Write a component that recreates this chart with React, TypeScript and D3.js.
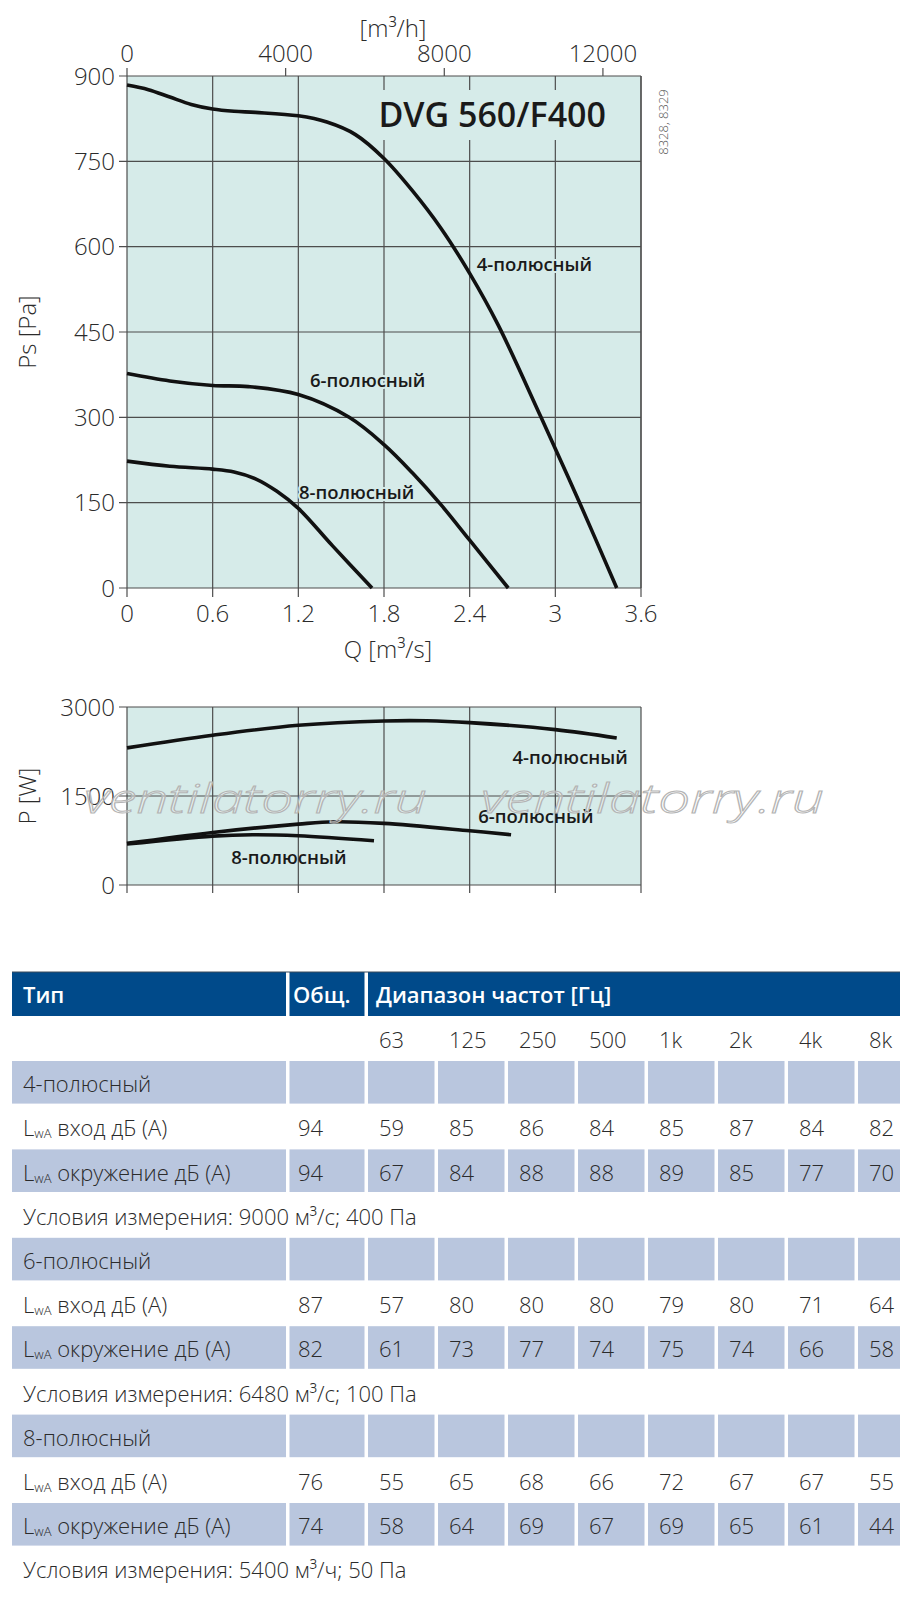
import * as d3 from 'd3';

// pressure curves, Q [m3/s] vs Ps [Pa]
const q4 = [0, 0.15, 0.3, 0.45, 0.6, 0.75, 0.9, 1.2, 1.4, 1.6, 1.8, 2.0, 2.2, 2.4, 2.6, 2.9, 3.17, 3.43];
const ps4 = [884, 876, 863, 850, 842, 838, 836, 830, 819, 797, 755, 698, 632, 553, 462, 300, 150, 0];
const q6 = [0, 0.3, 0.6, 0.85, 1.2, 1.556, 1.8, 2.0, 2.2, 2.4, 2.67];
const ps6 = [377, 364, 356, 354, 340, 300, 252, 202, 146, 84, 0];
const q8 = [0, 0.3, 0.6, 0.75, 0.9, 1.05, 1.2, 1.44, 1.716];
const ps8 = [223, 214, 209, 204, 192, 170, 140, 74, 0];

// power curves, Q [m3/s] vs P [W]
const qp4 = [0, 0.6, 1.2, 1.8, 2.1, 2.4, 3.0, 3.43];
const pw4 = [2311, 2524, 2692, 2765, 2768, 2737, 2619, 2479];
const qp6 = [0, 0.6, 1.2, 1.45, 1.8, 2.4, 2.69];
const pw6 = [701, 886, 1026, 1066, 1038, 914, 847];
const qp8 = [0, 0.6, 0.88, 1.2, 1.73];
const pw8 = [690, 824, 847, 830, 746];

const qTicks = [0, 0.6, 1.2, 1.8, 2.4, 3, 3.6];
const psTicks = [0, 150, 300, 450, 600, 750, 900];
const m3hTicks = [0, 4000, 8000, 12000];
const pTicks = [0, 1500, 3000];
const poles = ['4-полюсный', '6-полюсный', '8-полюсный'];

// sound table
const freqs = ['63', '125', '250', '500', '1k', '2k', '4k', '8k'];
const totalInlet = [94, 87, 76];
const totalSurr = [94, 82, 74];
const inlet4 = [59, 85, 86, 84, 85, 87, 84, 82];
const surr4 = [67, 84, 88, 88, 89, 85, 77, 70];
const inlet6 = [57, 80, 80, 80, 79, 80, 71, 64];
const surr6 = [61, 73, 77, 74, 75, 74, 66, 58];
const inlet8 = [55, 65, 68, 66, 72, 67, 67, 55];
const surr8 = [58, 64, 69, 67, 69, 65, 61, 44];
const conditions = [
  'Условия измерения: 9000 м³/с; 400 Па',
  'Условия измерения: 6480 м³/с; 100 Па',
  'Условия измерения: 5400 м³/ч; 50 Па',
];

const FONT = '"Open Sans", sans-serif';
const PLOT_BG = '#d6ebe9';
const GRID = '#4d4d4d';
const TEXT = '#2b2b2b';
const HEAD_BG = '#004a8a';
const BAND = '#b9c6de';

export default function App() {
  const W = 900;
  const H = 1599;
  const left = 127;
  const right = 641;

  const x = d3.scaleLinear().domain([0, 3.6]).range([left, right]);
  const xTop = d3.scaleLinear().domain([0, 3.6 * 3600]).range([left, right]);
  const y = d3.scaleLinear().domain([0, 900]).range([588, 76]);
  const yp = d3.scaleLinear().domain([0, 3000]).range([885, 707]);

  const line = d3
    .line<[number, number]>()
    .x((d) => x(d[0]))
    .y((d) => y(d[1]))
    .curve(d3.curveCatmullRom.alpha(0.5));
  const pline = d3
    .line<[number, number]>()
    .x((d) => x(d[0]))
    .y((d) => yp(d[1]))
    .curve(d3.curveCatmullRom.alpha(0.5));

  const zip = (a: number[], b: number[]) => a.map((v, i) => [v, b[i]] as [number, number]);
  const psCurves = [zip(q4, ps4), zip(q6, ps6), zip(q8, ps8)];
  const pCurves = [zip(qp4, pw4), zip(qp6, pw6), zip(qp8, pw8)];

  // label positions (in data units)
  const psLabels = [
    { q: 2.45, v: 557 },
    { q: 1.282, v: 353 },
    { q: 1.205, v: 156 },
  ];
  const pLabels = [
    { q: 2.7, v: 2040 },
    { q: 2.46, v: 1040 },
    { q: 0.73, v: 355 },
  ];

  // table geometry
  const rowH = 44.2;
  const rowTop = (i: number) => 1016 + (i - 1) * rowH;
  const colX = (i: number) => 368 + i * 70;
  const cellW = 66.5;
  const groups = [
    { inlet: inlet4, surr: surr4 },
    { inlet: inlet6, surr: surr6 },
    { inlet: inlet8, surr: surr8 },
  ];

  const bandRow = (i: number, key: string) => (
    <g key={key}>
      <rect x={12} y={rowTop(i) + 0.8} width={274} height={42.6} fill={BAND} />
      <rect x={289.5} y={rowTop(i) + 0.8} width={75} height={42.6} fill={BAND} />
      {freqs.map((f, j) => (
        <rect key={f} x={colX(j)} y={rowTop(i) + 0.8} width={cellW} height={42.6} fill={BAND} />
      ))}
    </g>
  );

  const lwa = (label: string, i: number) => (
    <text x={23} y={rowTop(i) + 32} fontSize={22} fill={TEXT} fontWeight={300}>
      L
      <tspan fontSize={13} dy={2}>
        wA
      </tspan>
      <tspan dy={-2}> {label}</tspan>
    </text>
  );

  const valueRow = (i: number, total: number, vals: number[]) => (
    <g>
      <text x={298} y={rowTop(i) + 32} fontSize={22} fill={TEXT} fontWeight={300}>
        {total}
      </text>
      {vals.map((v, j) => (
        <text key={j} x={colX(j) + 11} y={rowTop(i) + 32} fontSize={22} fill={TEXT} fontWeight={300}>
          {v}
        </text>
      ))}
    </g>
  );

  return (
    <svg
      width={W}
      height={H}
      style={{ position: 'absolute', left: 0, top: 0, background: '#fff' }}
      fontFamily={FONT}
    >
      <rect width={W} height={H} fill="#fff" />

      {/* ===== pressure chart ===== */}
      <rect x={left} y={y(900)} width={right - left} height={y(0) - y(900)} fill={PLOT_BG} />
      {qTicks.map((t) => (
        <line key={'gx' + t} x1={x(t)} x2={x(t)} y1={y(900)} y2={y(0) + 9} stroke={GRID} strokeWidth={1.2} />
      ))}
      {psTicks.map((t) => (
        <line key={'gy' + t} x1={left - 8} x2={right} y1={y(t)} y2={y(t)} stroke={GRID} strokeWidth={1.2} />
      ))}
      {m3hTicks.map((t) => (
        <line key={'tt' + t} x1={xTop(t)} x2={xTop(t)} y1={y(900) - 8} y2={y(900)} stroke={GRID} strokeWidth={1.2} />
      ))}
      {/* title with plot-coloured backdrop */}
      <rect x={362} y={90} width={250} height={50} fill={PLOT_BG} />
      <text x={606} y={127} textAnchor="end" fontSize={34} fontWeight={600} fill="#1a1a1a">
        DVG 560/F400
      </text>
      <line x1={right} x2={right} y1={y(900)} y2={y(0)} stroke={GRID} strokeWidth={1.2} />

      {psCurves.map((c, i) => (
        <path key={'ps' + i} d={line(c) ?? ''} fill="none" stroke="#111" strokeWidth={3.6} />
      ))}
      {psLabels.map((l, i) => (
        <text
          key={'pl' + i}
          x={x(l.q)}
          y={y(l.v)}
          fontSize={18.5}
          fontWeight={600}
          fill="#1a1a1a"
          stroke={PLOT_BG}
          strokeWidth={4}
          paintOrder="stroke"
        >
          {poles[i]}
        </text>
      ))}

      {psTicks.map((t) => (
        <text key={'yl' + t} x={115} y={y(t)} dy="0.36em" textAnchor="end" fontSize={24} fontWeight={300} fill={TEXT}>
          {t}
        </text>
      ))}
      {qTicks.map((t) => (
        <text key={'xl' + t} x={x(t)} y={622} textAnchor="middle" fontSize={24} fontWeight={300} fill={TEXT}>
          {t}
        </text>
      ))}
      {m3hTicks.map((t) => (
        <text key={'tl' + t} x={xTop(t)} y={62} textAnchor="middle" fontSize={24} fontWeight={300} fill={TEXT}>
          {t}
        </text>
      ))}
      <text x={393} y={37} textAnchor="middle" fontSize={24} fontWeight={300} fill={TEXT}>
        [m³/h]
      </text>
      <text x={388} y={658} textAnchor="middle" fontSize={24} fontWeight={300} fill={TEXT}>
        Q [m³/s]
      </text>
      <text
        transform={`translate(36,${(y(0) + y(900)) / 2}) rotate(-90)`}
        textAnchor="middle"
        fontSize={24}
        fontWeight={300}
        fill={TEXT}
      >
        Ps [Pa]
      </text>
      <text
        transform="translate(668,122) rotate(-90)"
        textAnchor="middle"
        fontSize={13}
        fontWeight={300}
        fill="#555"
      >
        8328, 8329
      </text>

      {/* ===== power chart ===== */}
      <rect x={left} y={yp(3000)} width={right - left} height={yp(0) - yp(3000)} fill={PLOT_BG} />
      {qTicks.map((t) => (
        <line key={'pgx' + t} x1={x(t)} x2={x(t)} y1={yp(3000)} y2={yp(0) + 8} stroke={GRID} strokeWidth={1.2} />
      ))}
      {pTicks.map((t) => (
        <line key={'pgy' + t} x1={left - 8} x2={right} y1={yp(t)} y2={yp(t)} stroke={GRID} strokeWidth={1.2} />
      ))}
      {pCurves.map((c, i) => (
        <path key={'pw' + i} d={pline(c) ?? ''} fill="none" stroke="#111" strokeWidth={3.6} />
      ))}
      {pLabels.map((l, i) => (
        <text key={'ppl' + i} x={x(l.q)} y={yp(l.v)} fontSize={18.5} fontWeight={600} fill="#1a1a1a">
          {poles[i]}
        </text>
      ))}
      {pTicks.map((t) => (
        <text key={'pyl' + t} x={115} y={yp(t)} dy="0.36em" textAnchor="end" fontSize={24} fontWeight={300} fill={TEXT}>
          {t}
        </text>
      ))}
      <text
        transform={`translate(36,${yp(1500)}) rotate(-90)`}
        textAnchor="middle"
        fontSize={24}
        fontWeight={300}
        fill={TEXT}
      >
        P [W]
      </text>
      {/* watermark */}
      {[84, 481].map((wx) => (
        <text
          key={'wm' + wx}
          x={wx}
          y={813}
          fontSize={40}
          fontStyle="italic"
          fontWeight={300}
          textLength={343}
          lengthAdjust="spacingAndGlyphs"
          fill="rgba(255,255,255,0.35)"
          stroke="#b4b4b4"
          strokeWidth={1}
        >
          ventilatorry.ru
        </text>
      ))}

      {/* ===== sound table ===== */}
      <rect x={12} y={972} width={274} height={44} fill={HEAD_BG} />
      <rect x={289.5} y={972} width={75} height={44} fill={HEAD_BG} />
      <rect x={368} y={972} width={W - 368} height={44} fill={HEAD_BG} />
      <line x1={12} x2={W} y1={972} y2={972} stroke="#3a4a5a" strokeWidth={1} />
      <text x={23} y={1003} fontSize={22} fontWeight={600} fill="#fff">
        Тип
      </text>
      <text x={293} y={1003} fontSize={22} fontWeight={600} fill="#fff">
        Общ.
      </text>
      <text x={376} y={1003} fontSize={22} fontWeight={600} fill="#fff">
        Диапазон частот [Гц]
      </text>

      {freqs.map((f, j) => (
        <text key={'f' + f} x={colX(j) + 11} y={rowTop(1) + 32} fontSize={22} fontWeight={300} fill={TEXT}>
          {f}
        </text>
      ))}

      {groups.map((g, k) => {
        const base = 2 + k * 4;
        return (
          <g key={'grp' + k}>
            {bandRow(base, 'b1')}
            {bandRow(base + 2, 'b2')}
            <text x={23} y={rowTop(base) + 32} fontSize={22} fontWeight={300} fill={TEXT}>
              {poles[k]}
            </text>
            {lwa('вход дБ (А)', base + 1)}
            {valueRow(base + 1, totalInlet[k], g.inlet)}
            {lwa('окружение дБ (А)', base + 2)}
            {valueRow(base + 2, totalSurr[k], g.surr)}
            <text x={23} y={rowTop(base + 3) + 32} fontSize={22} fontWeight={300} fill={TEXT}>
              {conditions[k]}
            </text>
          </g>
        );
      })}
    </svg>
  );
}
